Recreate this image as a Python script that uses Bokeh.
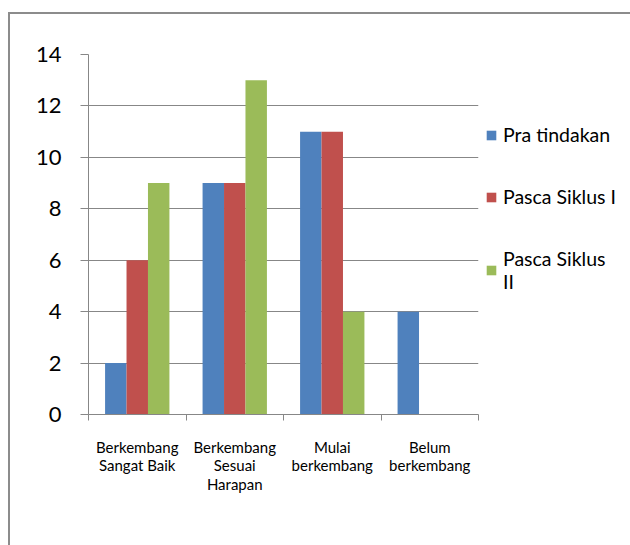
from bokeh.plotting import figure
from bokeh.models import (Range1d, LinearAxis, FixedTicker, Legend, LegendItem, ColumnDataSource)
from bokeh.transform import dodge
from bokeh.embed import file_html
from bokeh.resources import INLINE

categories = ["Berkembang Sangat Baik", "Berkembang Sesuai Harapan", "Mulai berkembang", "Belum berkembang"]
category_labels = ["Berkembang\nSangat Baik", "Berkembang\nSesuai\nHarapan", "Mulai\nberkembang", "Belum\nberkembang"]
pra_tindakan = [2, 9, 11, 4]
pasca_siklus_1 = [6, 9, 11, 0]
pasca_siklus_2 = [9, 13, 4, 0]
series_names = ["Pra tindakan", "Pasca Siklus I", "Pasca Siklus\nII"]
colors = ["#4F81BD", "#C0504D", "#9BBB59"]
y_ticks = [0, 2, 4, 6, 8, 10, 12, 14]

FONT = "Lato"
GRAY = "#878787"

n = len(categories)
centers = [i + 0.5 for i in range(n)]
bounds = list(range(n + 1))

source = ColumnDataSource(dict(x=centers, cat=categories, s1=pra_tindakan, s2=pasca_siklus_1, s3=pasca_siklus_2))

p = figure(frame_width=390, frame_height=360, x_range=Range1d(0, n), y_range=Range1d(0, 14),
           output_backend="svg", toolbar_location=None,
           min_border_left=78, min_border_top=40, min_border_right=152, min_border_bottom=131,
           x_axis_location=None, y_axis_location=None,
           styles={"margin-left": "8px", "margin-top": "12px",
                   "border-left": "2px solid #8c8c8c", "border-top": "2px solid #8c8c8c"})
p.outline_line_color = None
p.xgrid.grid_line_color = None
p.ygrid.grid_line_color = GRAY
p.ygrid.ticker = FixedTicker(ticks=y_ticks)

bw = 0.22
renderers = []
for i, (col, c) in enumerate(zip(["s1", "s2", "s3"], colors)):
    r = p.vbar(x=dodge("x", (i - 1) * bw), top=col, width=bw, source=source,
               fill_color=c, line_color=None)
    renderers.append(r)

# y axis
yax = LinearAxis(ticker=FixedTicker(ticks=y_ticks))
yax.axis_line_color = GRAY
yax.major_tick_line_color = GRAY
yax.major_tick_out = 8
yax.major_tick_in = 0
yax.minor_tick_line_color = None
yax.major_label_text_font = FONT
yax.major_label_text_font_size = "22px"
yax.major_label_text_color = "#000000"
yax.major_label_standoff = 19
p.add_layout(yax, "left")

# category axis: labels at centres, tick marks at boundaries
xcat = LinearAxis(ticker=FixedTicker(ticks=centers, minor_ticks=bounds))
xcat.axis_line_color = GRAY
xcat.major_tick_line_color = None
xcat.minor_tick_line_color = GRAY
xcat.minor_tick_out = 6
xcat.minor_tick_in = 0
xcat.major_tick_out = 6
xcat.major_tick_in = 0
xcat.major_label_overrides = {c: lab for c, lab in zip(centers, category_labels)}
xcat.major_label_text_font = FONT
xcat.major_label_text_font_size = "15px"
xcat.major_label_text_color = "#000000"
xcat.major_label_text_line_height = 1.05
xcat.major_label_standoff = 17
p.add_layout(xcat, "below")

legend = Legend(items=[LegendItem(label=nm, renderers=[r]) for nm, r in zip(series_names, renderers)],
                location=(7, 121))
legend.glyph_width = 12
legend.glyph_height = 12
legend.label_standoff = 6
legend.label_text_font = FONT
legend.label_text_font_size = "19.5px"
legend.label_text_color = "#000000"
legend.spacing = 39
legend.padding = 0
legend.margin = 0
legend.border_line_color = None
legend.background_fill_alpha = 0
p.add_layout(legend, "right")

open("out.html", "w").write(file_html(p, INLINE))
